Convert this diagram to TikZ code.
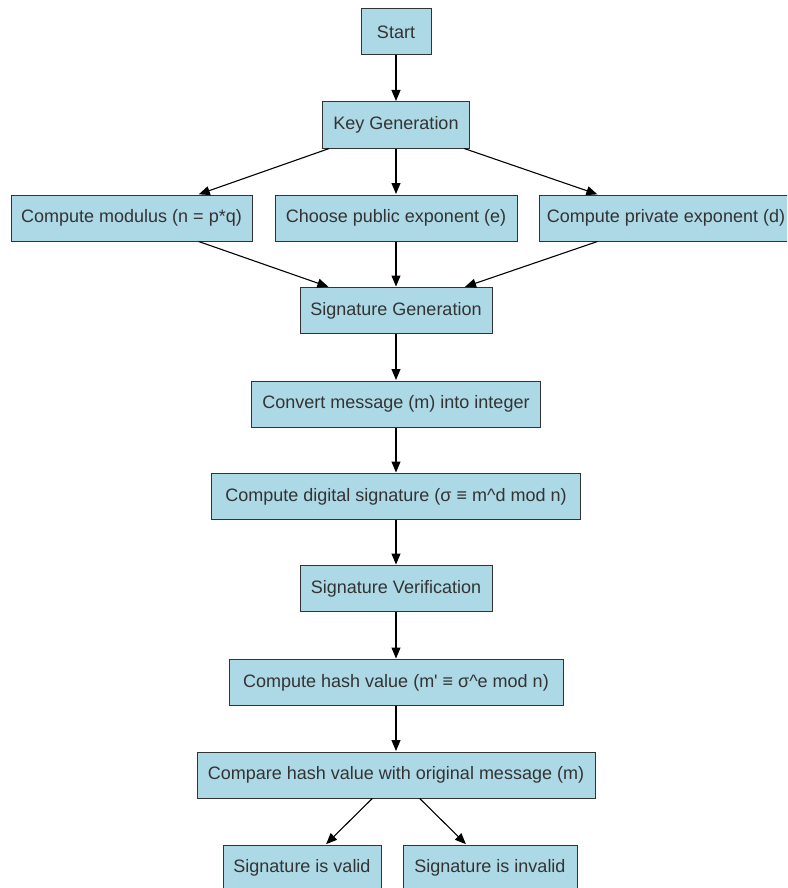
\documentclass[tikz,border=0pt]{standalone}
\usepackage{fontspec}
\setmainfont{Liberation Sans}
\usetikzlibrary{arrows.meta}
\definecolor{boxfill}{RGB}{173,216,230}
\definecolor{ink}{RGB}{51,51,51}
\tikzset{
  stepbox/.style={draw=ink, fill=boxfill, line width=1pt, text=ink,
    font=\fontsize{18}{21}\selectfont, inner xsep=2pt, inner ysep=0pt,
    minimum height=46pt, anchor=center},
  flow/.style={draw=black, line width=1.1pt,
    -{Triangle[length=11pt,width=9pt]}, shorten >=0.5pt}
}
\begin{document}
\begin{tikzpicture}[x=1pt, y=-1pt]
  \useasboundingbox (0,0) rectangle (787,888);
  \fill[white] (0,0) rectangle (787,888);
  \clip (0,0) rectangle (787,888);

  % key generation stage
  \node[stepbox, minimum width=70pt]  (start) at (396,32)    {Start};
  \node[stepbox, minimum width=147pt] (kg)    at (396,125)   {Key Generation};
  \node[stepbox, minimum width=241pt] (mod)   at (131.5,218) {Compute modulus (n = p*q)};
  \node[stepbox, minimum width=242pt] (pub)   at (396,218)   {Choose public exponent (e)};
  \node[stepbox, minimum width=254pt] (priv)  at (666,218)   {Compute private exponent (d)};

  % signing stage
  \node[stepbox, minimum width=192pt] (sg)    at (396,310.5) {Signature Generation};
  \node[stepbox, minimum width=289pt] (conv)  at (396,404)   {Convert message (m) into integer};
  \node[stepbox, minimum width=369pt] (dsig)  at (396,496.5) {Compute digital signature (σ ≡ m\^{}d mod n)};

  % verification stage
  \node[stepbox, minimum width=192pt] (sv)    at (396,588.5) {Signature Verification};
  \node[stepbox, minimum width=334pt] (hash)  at (396,682.5) {Compute hash value (m\textquotesingle{} ≡ σ\^{}e mod n)};
  \node[stepbox, minimum width=398pt] (cmp)   at (396,775)   {Compare hash value with original message (m)};
  \node[stepbox, minimum width=158pt] (valid) at (302,868)   {Signature is valid};
  \node[stepbox, minimum width=174pt] (inval) at (490,868)   {Signature is invalid};

  % connectors
  \draw[flow] (start) -- (kg);
  \draw[flow] (kg) -- (mod);
  \draw[flow] (kg) -- (pub);
  \draw[flow] (kg) -- (priv);
  \draw[flow] (mod) -- (sg);
  \draw[flow] (pub) -- (sg);
  \draw[flow] (priv) -- (sg);
  \draw[flow] (sg) -- (conv);
  \draw[flow] (conv) -- (dsig);
  \draw[flow] (dsig) -- (sv);
  \draw[flow] (sv) -- (hash);
  \draw[flow] (hash) -- (cmp);
  \draw[flow] (cmp) -- (valid);
  \draw[flow] (cmp) -- (inval);
\end{tikzpicture}
\end{document}
